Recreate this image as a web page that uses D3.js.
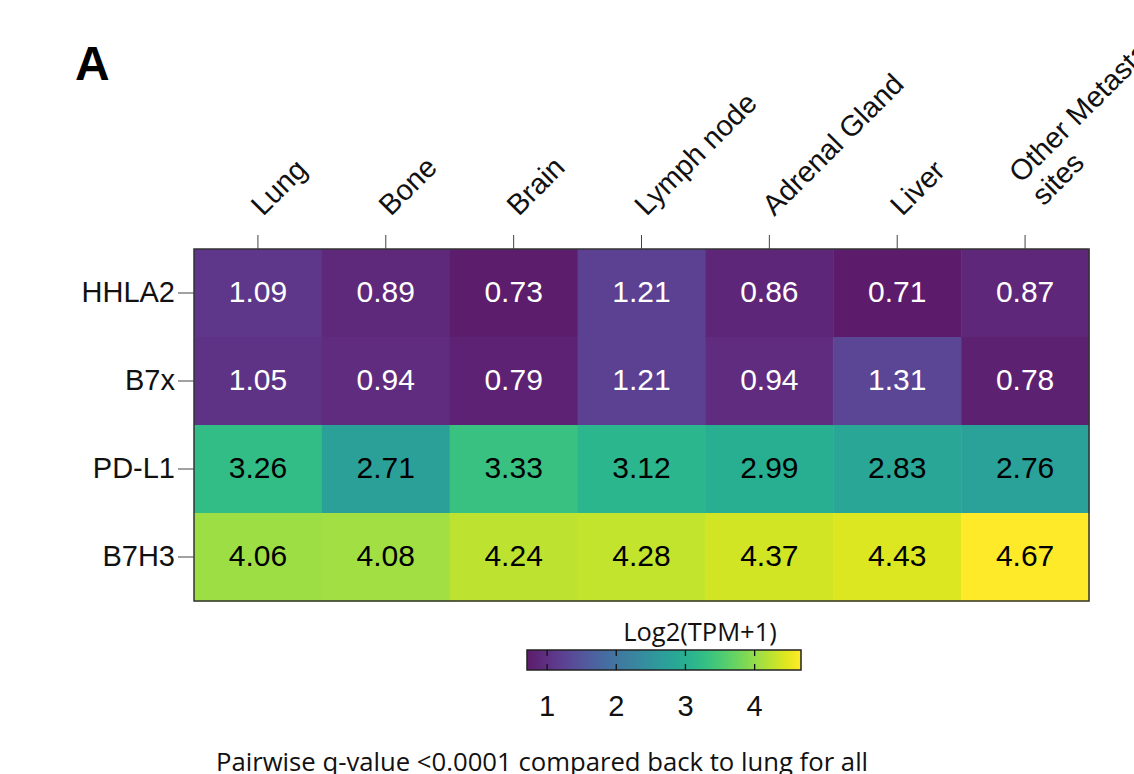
<!DOCTYPE html>
<html>
<head>
<meta charset="utf-8">
<script src="https://cdn.jsdelivr.net/npm/d3@7"></script>
<style>
  body { margin: 0; background: #fff; }
  svg { display: block; }
</style>
</head>
<body>
<div class="container"></div>
<script>
var WIDTH = 1134, HEIGHT = 774;

var sites = ["Lung", "Bone", "Brain", "Lymph node", "Adrenal Gland", "Liver", "Other Metastatic sites"];
var genes = ["HHLA2", "B7x", "PD-L1", "B7H3"];
var hhla2 = [1.09, 0.89, 0.73, 1.21, 0.86, 0.71, 0.87];
var b7x   = [1.05, 0.94, 0.79, 1.21, 0.94, 1.31, 0.78];
var pdl1  = [3.26, 2.71, 3.33, 3.12, 2.99, 2.83, 2.76];
var b7h3  = [4.06, 4.08, 4.24, 4.28, 4.37, 4.43, 4.67];
var legendTicks = [1, 2, 3, 4];

var rows = [hhla2, b7x, pdl1, b7h3];
var cells = [];
rows.forEach(function(r, i){
    r.forEach(function(v, j){
        cells.push({gene: genes[i], site: sites[j], value: v});
    });
});

var svg = d3.select('.container').append('svg')
            .attr('width', WIDTH)
            .attr('height', HEIGHT);

var _xScale = d3.scaleBand().domain(sites).range([194, 1089]);
var _yScale = d3.scaleBand().domain(genes).range([249, 601]);
var extent = d3.extent(cells, function(d){ return d.value; });
var _viridis = d3.scaleSequential(d3.interpolateViridis).domain(extent);

// viridis, slightly lifted in the dark end like the source figure
var _color = function(v){
    var c = d3.hcl(_viridis(v));
    c.l = c.l + 11 * (1 - c.l / 100);
    if (c.l > 40 && c.l < 80) c.c = c.c * 1.04;
    return c.formatHex();
};

// panel letter
svg.append('text')
   .attr('x', 75).attr('y', 80)
   .style('font', 'bold 48px "Liberation Sans", Arial, sans-serif')
   .text('A');

// cells
svg.selectAll('rect.cell').data(cells)
   .enter().append('rect')
     .classed('cell', true)
     .attr('x', function(d){ return _xScale(d.site); })
     .attr('y', function(d){ return _yScale(d.gene); })
     .attr('width', _xScale.bandwidth() + 0.5)
     .attr('height', _yScale.bandwidth() + 0.5)
     .attr('fill', function(d){ return _color(d.value); });

svg.selectAll('text.val').data(cells)
   .enter().append('text')
     .classed('val', true)
     .attr('x', function(d){ return _xScale(d.site) + _xScale.bandwidth() / 2; })
     .attr('y', function(d){ return _yScale(d.gene) + _yScale.bandwidth() / 2; })
     .attr('text-anchor', 'middle')
     .attr('dy', '0.31em')
     .style('font', '30px "Liberation Sans", Arial, sans-serif')
     .attr('fill', function(d){ return d.value < 2 ? '#fff' : '#000'; })
     .text(function(d){ return d.value.toFixed(2); });

// frame
svg.append('rect')
   .attr('x', 194).attr('y', 249)
   .attr('width', 1089 - 194).attr('height', 601 - 249)
   .attr('fill', 'none').attr('stroke', '#333').attr('stroke-width', 1.5);

// left axis
var yAxis = svg.append('g')
   .attr('transform', 'translate(194,0)')
   .call(d3.axisLeft(_yScale).tickSize(16).tickPadding(3));
yAxis.select('.domain').remove();
yAxis.selectAll('line').attr('stroke', '#444');
yAxis.selectAll('text')
     .style('font', '29px "Liberation Sans", Arial, sans-serif')
     .attr('fill', '#111');

// top axis with rotated labels
var xAxis = svg.append('g')
   .attr('transform', 'translate(0,249)')
   .call(d3.axisTop(_xScale).tickSize(14).tickFormat(''));
xAxis.select('.domain').remove();
xAxis.selectAll('line').attr('stroke', '#444');

var labels = svg.append('g').selectAll('text').data(sites)
   .enter().append('text')
     .style('font', '29px "Liberation Sans", Arial, sans-serif')
     .attr('fill', '#111')
     .attr('transform', function(d){
         var cx = _xScale(d) + _xScale.bandwidth() / 2;
         var multi = d.length > 15;
         var ax = multi ? cx - 4 : cx + 5;
         var ay = multi ? 184 : 217;
         return 'translate(' + ax + ',' + ay + ') rotate(-45)';
     });
labels.each(function(d){
    var t = d3.select(this);
    if (d.length > 15) {
        var k = d.lastIndexOf(' ');
        t.append('tspan').attr('x', 0).attr('y', 0).text(d.slice(0, k));
        t.append('tspan').attr('x', 0).attr('y', 32).text(d.slice(k + 1));
    } else {
        t.text(d);
    }
});

// colour bar
var _cbScale = d3.scaleLinear().domain(extent).range([527, 801]);
var grad = svg.append('defs').append('linearGradient')
   .attr('id', 'cbgrad').attr('x1', '0%').attr('x2', '100%');
d3.range(0, 1.0001, 0.05).forEach(function(t){
    grad.append('stop')
        .attr('offset', (t * 100) + '%')
        .attr('stop-color', _color(extent[0] + t * (extent[1] - extent[0])));
});
svg.append('rect')
   .attr('x', 527).attr('y', 650)
   .attr('width', 801 - 527).attr('height', 20)
   .attr('fill', 'url(#cbgrad)')
   .attr('stroke', '#222').attr('stroke-width', 1.5);

svg.selectAll('line.cbtick').data(legendTicks)
   .enter().append('line')
     .classed('cbtick', true)
     .attr('x1', function(d){ return _cbScale(d); })
     .attr('x2', function(d){ return _cbScale(d); })
     .attr('y1', 650).attr('y2', 670)
     .attr('stroke', '#111').attr('stroke-width', 1.3)
     .attr('stroke-dasharray', '6,8');

svg.selectAll('text.cblab').data(legendTicks)
   .enter().append('text')
     .classed('cblab', true)
     .attr('x', function(d){ return _cbScale(d); })
     .attr('y', 716)
     .attr('text-anchor', 'middle')
     .style('font', '29px "Liberation Sans", Arial, sans-serif')
     .attr('fill', '#111')
     .text(function(d){ return d; });

svg.append('text')
   .attr('x', 700).attr('y', 641)
   .attr('text-anchor', 'middle')
   .style('font', '25.5px "Open Sans", "Noto Sans", sans-serif')
   .attr('fill', '#111')
   .text('Log2(TPM+1)');

svg.append('text')
   .attr('x', 216).attr('y', 771)
   .style('font', '25.7px "Open Sans", "Noto Sans", sans-serif')
   .attr('fill', '#111')
   .text('Pairwise q-value <0.0001 compared back to lung for all');
</script>
</body>
</html>
